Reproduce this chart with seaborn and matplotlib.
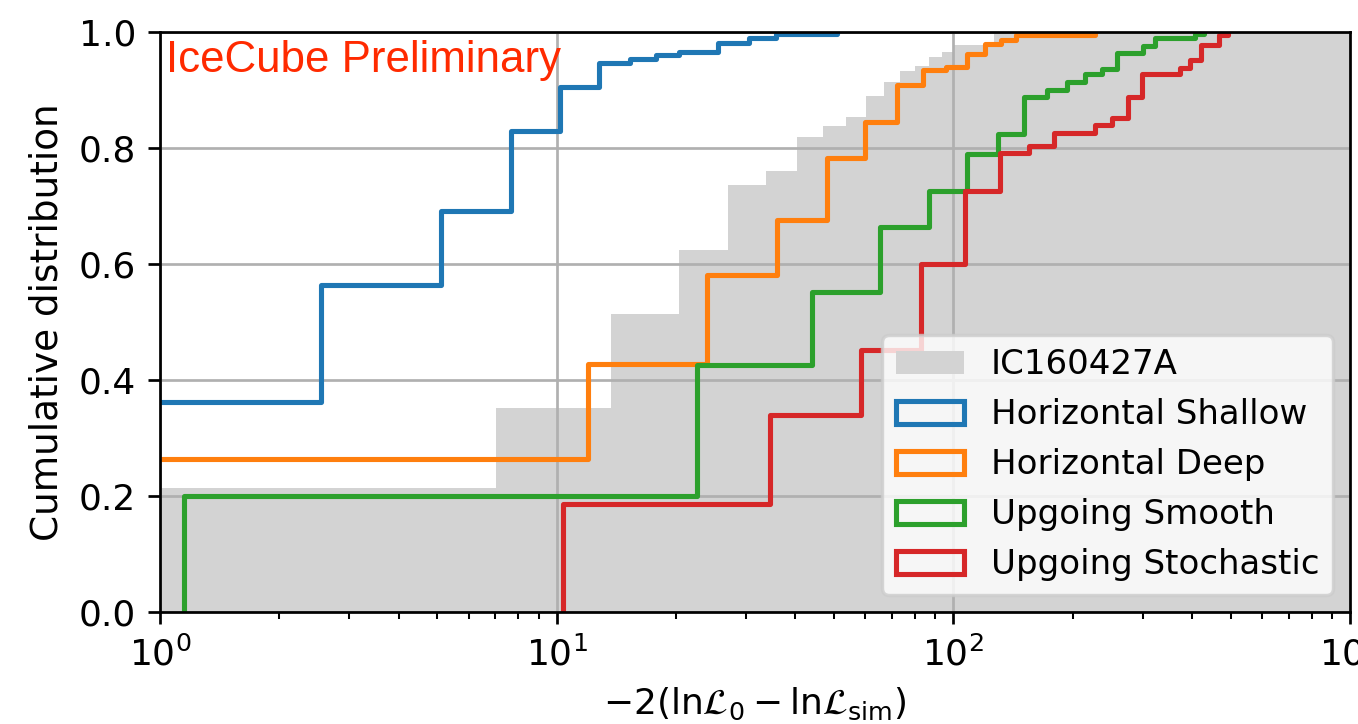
import numpy as np
import matplotlib
matplotlib.use("Agg")
import matplotlib.pyplot as plt
from matplotlib.patches import Patch
import seaborn as sns

# ---- data ----
gray_label = "IC160427A"
gray_edges = [0.4, 7.05, 13.7, 20.35, 27.0, 33.65, 40.3, 46.95, 53.6, 60.25,
              66.9, 73.55, 80.2, 86.85, 93.5, 100.15, 126.75, 1500.0]
gray_cum = [0.214, 0.352, 0.514, 0.624, 0.736, 0.760, 0.819, 0.838, 0.853, 0.890,
            0.914, 0.933, 0.941, 0.957, 0.966, 0.977, 1.0]

names = ["Horizontal Shallow", "Horizontal Deep", "Upgoing Smooth", "Upgoing Stochastic"]
colors = ["#1f77b4", "#ff7f0e", "#2ca02c", "#d62728"]

hs_x = [0.5, 2.55, 5.1, 7.65, 10.2, 12.75, 15.3, 17.85, 20.4, 25.5, 30.6, 35.7, 51.0]
hs_y = [0.362, 0.564, 0.692, 0.829, 0.906, 0.946, 0.953, 0.960, 0.966, 0.981, 0.989, 0.997, 1.0]

hd_x = [0.5, 12, 24, 36, 48, 60, 72, 84, 96, 108, 120, 132, 144, 228]
hd_y = [0.264, 0.427, 0.581, 0.676, 0.783, 0.845, 0.909, 0.935, 0.940, 0.962, 0.979, 0.986, 0.994, 1.0]

us_x = [1.15, 22.55, 43.95, 65.35, 86.75, 108.15, 129.55, 150.95, 172.35, 193.75,
        215.15, 236.55, 257.95, 300.75, 322.15, 407.75, 429.15]
us_y = [0.200, 0.426, 0.551, 0.663, 0.726, 0.789, 0.825, 0.888, 0.900, 0.913,
        0.927, 0.937, 0.963, 0.976, 0.989, 0.996, 1.0]

ust_x = [10.4, 34.5, 58.6, 82.7, 106.8, 130.9, 155.0, 179.1, 227.3, 251.4,
         275.5, 299.6, 371.9, 396.0, 420.1, 468.3, 492.4]
ust_y = [0.187, 0.339, 0.452, 0.600, 0.726, 0.791, 0.803, 0.826, 0.840, 0.851,
         0.888, 0.927, 0.938, 0.952, 0.977, 0.995, 1.0]

series_x = [hs_x, hd_x, us_x, ust_x]
series_y = [hs_y, hd_y, us_y, ust_y]

# ---- figure ----
DPI = 245
W, H = 1358, 724
fig = plt.figure(figsize=(W / DPI, H / DPI), dpi=DPI)
ax = fig.add_axes([160 / W, (H - 612) / H, 1190 / W, 580 / H])

gray_inc = np.diff(np.concatenate([[0.0], gray_cum]))
sns.histplot(x=gray_edges[:-1], weights=gray_inc, bins=gray_edges, cumulative=True,
             stat="count", element="step", fill=True, color="lightgray", alpha=1,
             linewidth=0, ax=ax)

LW = 1.5
for xs, ys, c in zip(series_x, series_y, colors):
    px = [xs[0]] + list(xs)
    py = [0.0] + list(ys)
    sns.lineplot(x=px, y=py, drawstyle="steps-post", estimator=None, sort=False,
                 color=c, linewidth=LW, ax=ax, legend=False)

ax.set_xscale("log")
ax.set_xlim(1, 1000)
ax.set_ylim(0, 1)
ax.grid(True, which="major")
ax.tick_params(axis="both", which="major", labelsize=10.6)
ax.set_xlabel(r"$-2(\mathrm{ln}\mathcal{L}_0 - \mathrm{ln}\mathcal{L}_{\rm sim})$", fontsize=10.6)
ax.set_ylabel("Cumulative distribution", fontsize=11)

ax.text(0.005, 0.9316, "IceCube Preliminary", transform=ax.transAxes,
        color="#ff2a00", fontsize=12.9, family="Liberation Sans", va="baseline")

handles = [Patch(facecolor="lightgray", edgecolor="none", label=gray_label)]
for n, c in zip(names, colors):
    handles.append(Patch(facecolor="none", edgecolor=c, linewidth=LW, label=n))
ax.legend(handles=handles, loc="lower right")

fig.savefig("out.png", dpi=DPI)
